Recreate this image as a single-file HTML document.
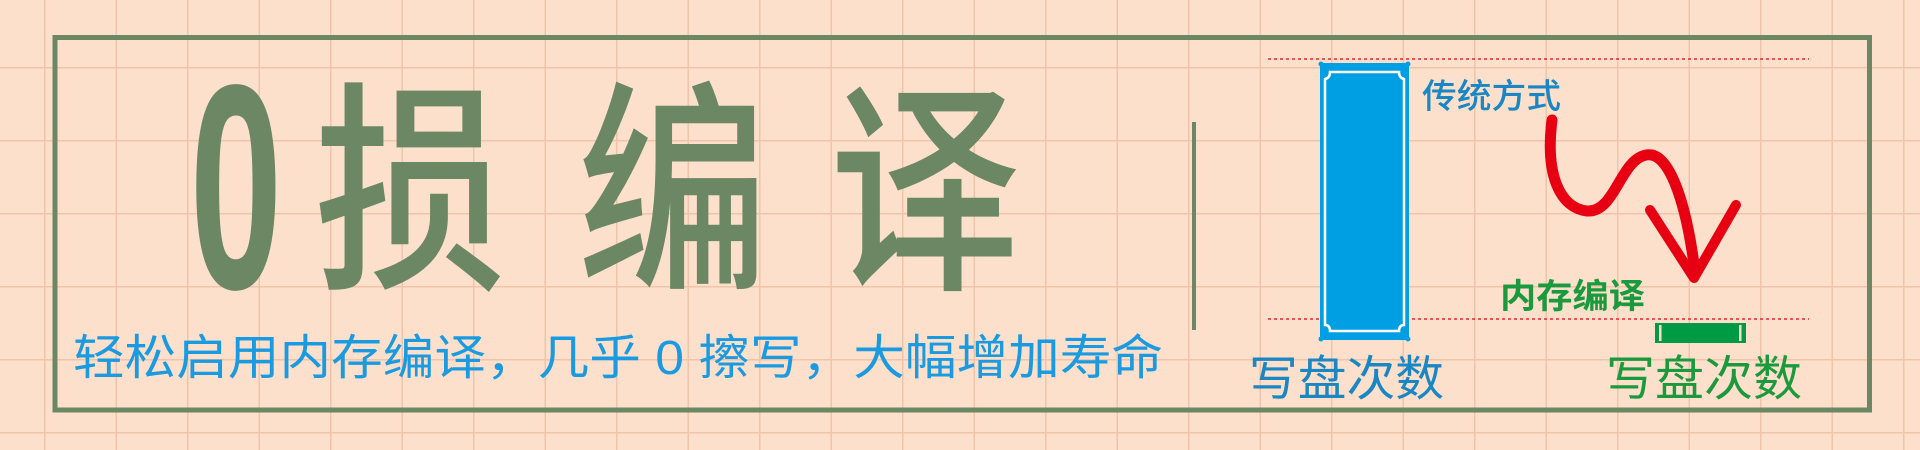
<!DOCTYPE html>
<html><head><meta charset="utf-8"><style>
html,body{margin:0;padding:0;width:1920px;height:450px;overflow:hidden;background:#fde0cb}
svg{display:block}
text{font-family:"Liberation Sans","Noto Sans CJK SC",sans-serif}
</style></head><body>
<svg width="1920" height="450" viewBox="0 0 1920 450">
<defs>
<pattern id="grid" x="44" y="67" width="71.5" height="73" patternUnits="userSpaceOnUse">
<rect width="71.5" height="73" fill="#fde0cb"/>
<line x1="0" y1="0" x2="0" y2="73" stroke="#f0c3ab" stroke-width="3"/>
<line x1="0" y1="0" x2="71.5" y2="0" stroke="#f0c3ab" stroke-width="3"/>
</pattern>
</defs>
<rect width="1920" height="450" fill="url(#grid)"/>
<rect x="55" y="37.5" width="1814.5" height="372.5" fill="none" stroke="#6b8764" stroke-width="5"/>

<g fill="#6b8764" font-weight="bold">
<text x="236" y="288" font-size="292" text-anchor="middle" transform="translate(236 0) scale(0.57 1) translate(-236 0)">0</text>
<text x="410" y="272" font-size="225" text-anchor="middle" transform="translate(410 0) scale(0.85 1) translate(-410 0)" font-weight="500">损</text>
<text x="673" y="272" font-size="225" text-anchor="middle" transform="translate(673 0) scale(0.85 1) translate(-673 0)" font-weight="500">编</text>
<text x="925" y="272" font-size="225" text-anchor="middle" transform="translate(925 0) scale(0.85 1) translate(-925 0)" font-weight="500">译</text>
</g>

<text x="73" y="374" font-size="48" fill="#1a9ae0" textLength="1090" lengthAdjust="spacingAndGlyphs">轻松启用内存编译，几乎 0 擦写，大幅增加寿命</text>

<rect x="1192" y="122" width="4" height="208" fill="#6b8764"/>

<line x1="1268" y1="59" x2="1809" y2="59" stroke="#e5262e" stroke-width="1.5" stroke-dasharray="3 3"/>
<line x1="1268" y1="319" x2="1809" y2="319" stroke="#e5262e" stroke-width="1.5" stroke-dasharray="3 3"/>

<g>
<rect x="1320" y="63" width="89" height="277" fill="#009fe3"/>
<path d="M1330 72 L1399 72 Q1399 78 1404 79 L1404 325 Q1399 325 1399 331 L1330 331 Q1330 325 1325 325 L1325 79 Q1330 78 1330 72 Z" fill="none" stroke="#fff" stroke-width="2.5"/>
<circle cx="1321" cy="64" r="2.5" fill="#009fe3"/><circle cx="1408" cy="64" r="2.5" fill="#009fe3"/>
<circle cx="1321" cy="339" r="2.5" fill="#009fe3"/><circle cx="1408" cy="339" r="2.5" fill="#009fe3"/>
</g>

<text x="1422" y="108" font-size="34" fill="#1a86c4" font-weight="500" textLength="139" lengthAdjust="spacingAndGlyphs">传统方式</text>
<text x="1500" y="308" font-size="34" fill="#1a9a3c" font-weight="bold" textLength="145" lengthAdjust="spacingAndGlyphs">内存编译</text>

<g>
<rect x="1655" y="323" width="91" height="20" fill="#009a44"/>
<rect x="1659" y="325" width="2.5" height="16" fill="#fde0cb"/>
<rect x="1739" y="325" width="2.5" height="16" fill="#fde0cb"/>
</g>

<g fill="none" stroke="#e60012" stroke-linecap="round" stroke-linejoin="round">
<path d="M1552 120 C1545 175 1560 208 1587 211 C1615 213 1620 160 1646 155 C1672 150 1688 215 1695 272" stroke-width="11"/>
<path d="M1650 210 L1694 278 L1736 205" stroke-width="10"/>
</g>

<text x="1249" y="395" font-size="48" fill="#1a86c4" textLength="195" lengthAdjust="spacingAndGlyphs">写盘次数</text>
<text x="1606" y="395" font-size="48" fill="#1a9a3c" textLength="196" lengthAdjust="spacingAndGlyphs">写盘次数</text>
</svg>
</body></html>
